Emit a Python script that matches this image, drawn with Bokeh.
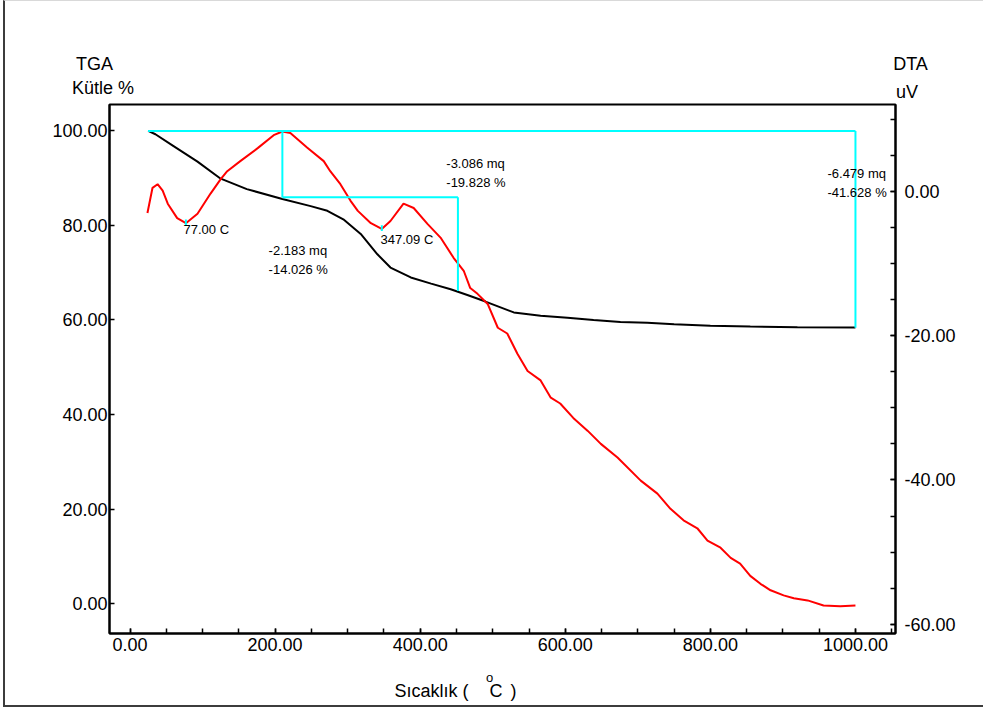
from bokeh.plotting import figure
from bokeh.layouts import column
from bokeh.models import (Range1d, LinearAxis, SingleIntervalTicker, NumeralTickFormatter, Plot)
from bokeh.core.properties import value
from bokeh.embed import file_html
from bokeh.resources import INLINE

# ---------------- data ----------------
# TGA (mass %, left axis)
tga_temp = [25, 35, 60, 93, 125, 161, 210, 249, 272, 294, 318, 341, 359, 387, 415, 442,
            465, 490, 529, 566, 603, 639, 676, 713, 750, 800, 855, 920, 1000]
tga_mass = [100, 99.3, 96.8, 93.5, 89.9, 87.7, 85.6, 84.1, 83.1, 81.3, 78.2, 73.9, 71.1, 69.0,
            67.7, 66.5, 65.3, 63.9, 61.6, 60.9, 60.5, 60.0, 59.6, 59.4, 59.1, 58.8, 58.6, 58.45, 58.4]

# DTA (uV, right axis)
dta_temp = [24, 31, 38, 45, 52, 65, 77, 93, 111, 125, 134, 152, 176, 198, 210, 221, 244, 267,
            276, 290, 304, 314, 332, 347, 359, 377, 391, 410, 428, 446, 460, 469, 479, 493, 507,
            520, 534, 548, 566, 580, 593, 611, 631, 649, 672, 704, 727, 745, 763, 782, 796, 814,
            828, 841, 855, 869, 883, 901, 915, 934, 956, 979, 1000]
dta_uv = [-3.0, 0.5, 1.0, 0.1, -1.7, -3.7, -4.4, -3.1, -0.3, 1.7, 2.8, 4.2, 6.0, 7.8, 8.3, 8.1,
          6.1, 4.2, 2.8, 1.0, -1.3, -2.7, -4.4, -5.2, -4.1, -1.7, -2.3, -4.5, -6.4, -9.2, -11.0,
          -13.4, -14.2, -15.6, -18.9, -19.7, -22.5, -24.9, -26.2, -28.6, -29.4, -31.4, -33.2,
          -35.0, -36.9, -40.1, -41.9, -44.0, -45.6, -46.7, -48.4, -49.4, -50.8, -51.6, -53.3,
          -54.4, -55.3, -56.0, -56.4, -56.7, -57.4, -57.5, -57.4]

# mass-loss steps: start T, end T, start %, loss %, loss mg
step_t0 = [25, 210, 25]
step_t1 = [210, 452, 1000]
step_m0 = [100, 100 - 14.026, 100]
step_pct = [-14.026, -19.828, -41.628]
step_mg = [-2.183, -3.086, -6.479]

# DTA peak markers
peak_temp = [77.00, 347.09]
peak_uv = [-4.4, -5.2]

FONT = "Liberation Sans"
W = 978
HAS_FRAME_ALIGN = "frame_align" in Plot.properties()

# ---------------- main plot ----------------
p = figure(width=W, height=562, output_backend="svg", toolbar_location=None,
           x_range=Range1d(-28.3, 1055.2), y_range=Range1d(-6.34, 105.6),
           min_border_left=104, min_border_right=88, min_border_top=1, min_border_bottom=32,
           background_fill_color="white", border_fill_color="white")
if HAS_FRAME_ALIGN:
    p.frame_align = False
p.extra_y_ranges = {"dta": Range1d(-61.29, 12.05)}
p.grid.visible = False
p.outline_line_color = "black"
p.outline_line_width = 2

p.xaxis.ticker = SingleIntervalTicker(interval=200, num_minor_ticks=4)
p.yaxis.ticker = SingleIntervalTicker(interval=20, num_minor_ticks=0)
right = LinearAxis(y_range_name="dta", ticker=SingleIntervalTicker(interval=20, num_minor_ticks=4))
p.add_layout(right, "right")

for ax in [p.xaxis[0], p.yaxis[0], right]:
    ax.formatter = NumeralTickFormatter(format="0.00")
    ax.axis_line_color = "black"
    ax.axis_line_width = 2
    ax.major_tick_in = 5
    ax.major_tick_out = 0
    ax.minor_tick_in = 5
    ax.minor_tick_out = 0
    ax.major_tick_line_color = "black"
    ax.minor_tick_line_color = "black"
    ax.major_tick_line_width = 1.5
    ax.minor_tick_line_width = 1.5
    ax.major_label_text_font = FONT
    ax.major_label_text_font_size = "18px"
    ax.major_label_text_color = "black"
p.xaxis.major_label_standoff = 4
p.yaxis.major_label_standoff = 2
right.major_label_standoff = 9

# curves
p.line(tga_temp, tga_mass, line_color="black", line_width=2)
p.line(dta_temp, dta_uv, line_color="red", line_width=2, y_range_name="dta")

# step lines
hx0, hx1, hy, vx, vy0, vy1 = [], [], [], [], [], []
for t0, t1, m0, dm in zip(step_t0, step_t1, step_m0, step_pct):
    hx0.append(t0); hx1.append(t1); hy.append(m0)
    vx.append(t1); vy0.append(m0); vy1.append(m0 + dm)
p.segment(x0=hx0, y0=hy, x1=hx1, y1=hy, line_color="#00FFFF", line_width=2)
p.segment(x0=vx, y0=vy0, x1=vx, y1=vy1, line_color="#00FFFF", line_width=2)
p.segment(x0=peak_temp, y0=[v - 0.3 for v in peak_uv], x1=peak_temp,
          y1=[v + 0.5 for v in peak_uv], line_color="#00FFFF", line_width=2, y_range_name="dta")


def txt(fig, x, y, s, size="13px", align="left"):
    fig.text(x=[x], y=[y], text=[s], text_font=value(FONT), text_font_size=size,
             text_align=align, text_baseline="middle", text_color="black")


# step annotations
step_lab_pos = [(191, 74.8, 70.6), (436, 93.2, 89.0), (961.4, 90.9, 86.9)]
for (x, y1, y2), mg, pct in zip(step_lab_pos, step_mg, step_pct):
    txt(p, x, y1, f"{mg:.3f} mq")
    txt(p, x, y2, f"{pct:.3f} %")

# peak annotations
txt(p, 73.7, 79.1, f"{peak_temp[0]:.2f} C")
txt(p, 345.3, 77.0, f"{peak_temp[1]:.2f} C")


# ---------------- title strips (pixel coordinates, y from top) ----------------
def strip(h):
    f = figure(width=W, height=h, output_backend="svg", toolbar_location=None,
               x_range=Range1d(0, W), y_range=Range1d(h, 0),
               min_border=0, x_axis_type=None, y_axis_type=None,
               background_fill_color="white", border_fill_color="white")
    if HAS_FRAME_ALIGN:
        f.frame_align = False
    f.grid.visible = False
    f.outline_line_color = None
    return f


top = strip(102)
txt(top, 89, 62, "TGA", size="18px", align="center")
txt(top, 97.5, 86, "Kütle %", size="18px", align="center")
txt(top, 905, 62, "DTA", size="18px", align="center")
txt(top, 901.5, 90, "uV", size="18px", align="center")

bottom = strip(40)
txt(bottom, 389, 25, "Sıcaklık (", size="18px")
txt(bottom, 484, 12, "o", size="13px", align="center")
txt(bottom, 484, 25, "C", size="18px")
txt(bottom, 505, 25, ")", size="18px")

root = column(top, p, bottom, spacing=0,
              styles={"border-left": "2px solid #3c3c3c", "border-top": "1px solid #d9d9d9",
                      "border-bottom": "2px solid #3c3c3c", "margin-left": "3px"})

open("out.html", "w").write(file_html(root, INLINE))
